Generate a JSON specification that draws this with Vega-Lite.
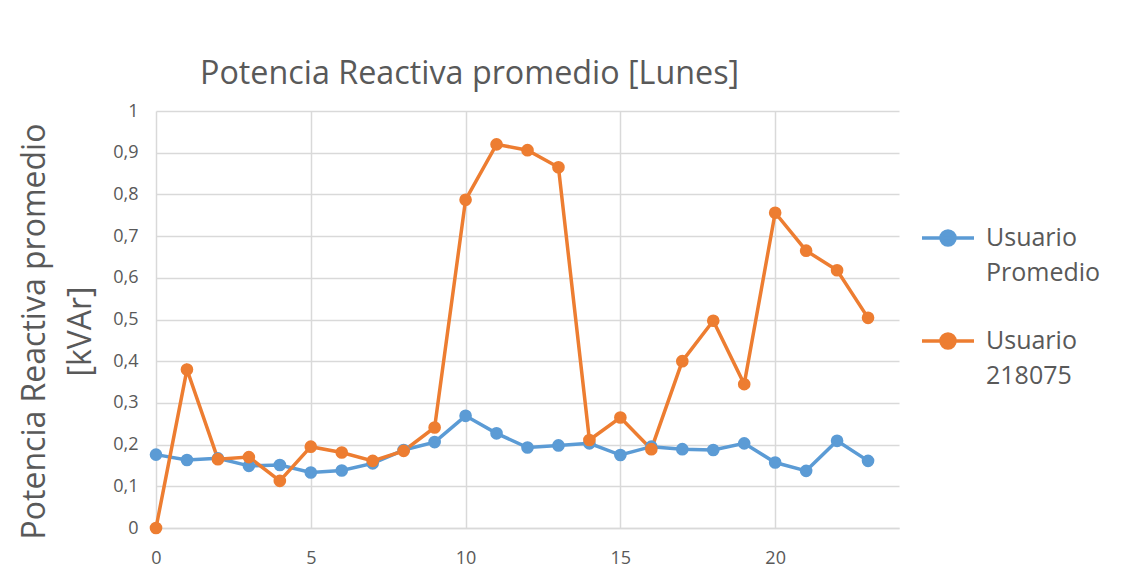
{
  "$schema": "https://vega.github.io/schema/vega-lite/v6.json",
  "autosize": "none",
  "width": 743,
  "height": 417,
  "padding": {"left": 156, "top": 111, "right": 227, "bottom": 56},
  "background": "white",
  "config": {
    "font": "Open Sans",
    "view": {"stroke": null},
    "style": {"guide-label": {"lineHeight": 35}},
    "axis": {"labelColor": "#595959", "titleColor": "#595959", "gridColor": "#d9d9d9", "gridWidth": 1.5, "ticks": false, "labelFontSize": 18, "labelFont": "Open Sans"}
  },
  "title": {
    "text": "Potencia Reactiva promedio [Lunes]",
    "anchor": "start",
    "frame": "group",
    "dx": 44,
    "offset": 12,
    "fontSize": 32.3,
    "fontWeight": "normal",
    "color": "#595959",
    "font": "Open Sans"
  },
  "data": {
    "values": [
      {"h": 0, "serie": "Usuario Promedio", "v": 0.176},
      {"h": 1, "serie": "Usuario Promedio", "v": 0.163},
      {"h": 2, "serie": "Usuario Promedio", "v": 0.167},
      {"h": 3, "serie": "Usuario Promedio", "v": 0.149},
      {"h": 4, "serie": "Usuario Promedio", "v": 0.151},
      {"h": 5, "serie": "Usuario Promedio", "v": 0.133},
      {"h": 6, "serie": "Usuario Promedio", "v": 0.138},
      {"h": 7, "serie": "Usuario Promedio", "v": 0.155},
      {"h": 8, "serie": "Usuario Promedio", "v": 0.187},
      {"h": 9, "serie": "Usuario Promedio", "v": 0.206},
      {"h": 10, "serie": "Usuario Promedio", "v": 0.269},
      {"h": 11, "serie": "Usuario Promedio", "v": 0.227},
      {"h": 12, "serie": "Usuario Promedio", "v": 0.193},
      {"h": 13, "serie": "Usuario Promedio", "v": 0.198},
      {"h": 14, "serie": "Usuario Promedio", "v": 0.203},
      {"h": 15, "serie": "Usuario Promedio", "v": 0.175},
      {"h": 16, "serie": "Usuario Promedio", "v": 0.195},
      {"h": 17, "serie": "Usuario Promedio", "v": 0.189},
      {"h": 18, "serie": "Usuario Promedio", "v": 0.187},
      {"h": 19, "serie": "Usuario Promedio", "v": 0.203},
      {"h": 20, "serie": "Usuario Promedio", "v": 0.157},
      {"h": 21, "serie": "Usuario Promedio", "v": 0.137},
      {"h": 22, "serie": "Usuario Promedio", "v": 0.209},
      {"h": 23, "serie": "Usuario Promedio", "v": 0.161},
      {"h": 0, "serie": "Usuario 218075", "v": 0.0},
      {"h": 1, "serie": "Usuario 218075", "v": 0.380},
      {"h": 2, "serie": "Usuario 218075", "v": 0.165},
      {"h": 3, "serie": "Usuario 218075", "v": 0.170},
      {"h": 4, "serie": "Usuario 218075", "v": 0.113},
      {"h": 5, "serie": "Usuario 218075", "v": 0.195},
      {"h": 6, "serie": "Usuario 218075", "v": 0.181},
      {"h": 7, "serie": "Usuario 218075", "v": 0.161},
      {"h": 8, "serie": "Usuario 218075", "v": 0.185},
      {"h": 9, "serie": "Usuario 218075", "v": 0.241},
      {"h": 10, "serie": "Usuario 218075", "v": 0.787},
      {"h": 11, "serie": "Usuario 218075", "v": 0.920},
      {"h": 12, "serie": "Usuario 218075", "v": 0.906},
      {"h": 13, "serie": "Usuario 218075", "v": 0.865},
      {"h": 14, "serie": "Usuario 218075", "v": 0.211},
      {"h": 15, "serie": "Usuario 218075", "v": 0.265},
      {"h": 16, "serie": "Usuario 218075", "v": 0.189},
      {"h": 17, "serie": "Usuario 218075", "v": 0.400},
      {"h": 18, "serie": "Usuario 218075", "v": 0.497},
      {"h": 19, "serie": "Usuario 218075", "v": 0.345},
      {"h": 20, "serie": "Usuario 218075", "v": 0.756},
      {"h": 21, "serie": "Usuario 218075", "v": 0.665},
      {"h": 22, "serie": "Usuario 218075", "v": 0.618},
      {"h": 23, "serie": "Usuario 218075", "v": 0.504}
    ]
  },
  "mark": {"type": "line", "strokeWidth": 3.5, "point": {"filled": true, "size": 160}},
  "encoding": {
    "x": {
      "field": "h",
      "type": "quantitative",
      "scale": {"domain": [0, 24], "nice": false, "zero": false},
      "axis": {"values": [0, 5, 10, 15, 20], "title": null, "labelPadding": 21, "domainColor": "#d9d9d9", "domainWidth": 1.5, "labelFlush": false}
    },
    "y": {
      "field": "v",
      "type": "quantitative",
      "scale": {"domain": [0, 1], "nice": false},
      "axis": {
        "values": [0, 0.1, 0.2, 0.3, 0.4, 0.5, 0.6, 0.7, 0.8, 0.9, 1],
        "labelExpr": "replace(format(datum.value, '.1~f'), '.', ',')",
        "domain": false,
        "labelPadding": 18,
        "title": ["Potencia Reactiva promedio", "[kVAr]"],
        "titleFontSize": 32,
        "titleFontWeight": "normal",
        "titleAngle": -90,
        "titleAlign": "center",
        "titleBaseline": "top",
        "titleX": -137,
        "titleY": 220,
        "titleLineHeight": 46,
        "titleFont": "Open Sans"
      }
    },
    "color": {
      "field": "serie",
      "type": "nominal",
      "sort": ["Usuario Promedio", "Usuario 218075"],
      "scale": {"domain": ["Usuario Promedio", "Usuario 218075"], "range": ["#5B9BD5", "#ED7D31"]},
      "legend": {
        "title": null,
        "orient": "none",
        "legendX": 764,
        "legendY": 99,
        "labelExpr": "split(datum.label, ' ')",
        "labelFontSize": 25,
        "labelColor": "#595959",
        "labelFont": "Open Sans",
        "labelBaseline": "middle",
        "labelOffset": 10,
        "labelLimit": 220,
        "symbolType": "M-1,0H1M-0.27,0A0.27,0.27,0,1,1,0.27,0A0.27,0.27,0,1,1,-0.27,0Z",
        "symbolSize": 2704,
        "symbolStrokeWidth": 3.5,
        "rowPadding": 27
      }
    }
  }
}
